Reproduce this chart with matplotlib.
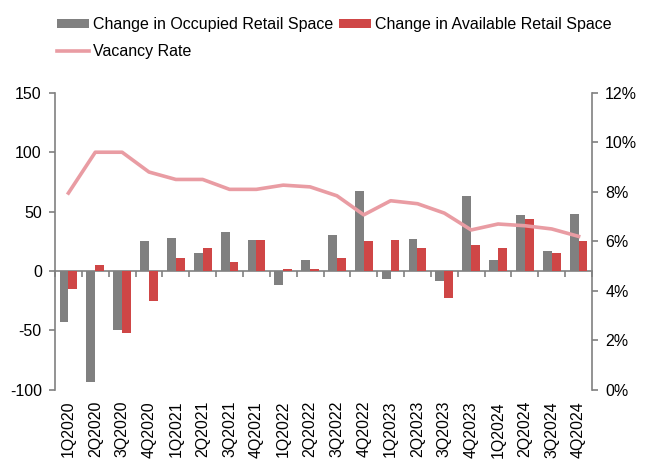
import numpy as np
import matplotlib
matplotlib.use("Agg")
import matplotlib.pyplot as plt
from matplotlib.ticker import PercentFormatter

plt.rcParams['font.family'] = ['Liberation Sans', 'DejaVu Sans']
plt.rcParams['font.size'] = 11.5
plt.rcParams['axes.unicode_minus'] = False

quarters = ["1Q2020", "2Q2020", "3Q2020", "4Q2020",
            "1Q2021", "2Q2021", "3Q2021", "4Q2021",
            "1Q2022", "2Q2022", "3Q2022", "4Q2022",
            "1Q2023", "2Q2023", "3Q2023", "4Q2023",
            "1Q2024", "2Q2024", "3Q2024", "4Q2024"]
occupied = [-43, -93, -50, 25, 28, 15, 33, 26, -12, 9, 30, 67,
            -7, 27, -8, 63, 9, 47, 17, 48]
available = [-15, 5, -52, -25, 11, 19, 8, 26, 2, 2, 11, 25,
             26, 19, -23, 22, 19, 44, 15, 25]
vacancy = [7.95, 9.6, 9.6, 8.8, 8.5, 8.5, 8.1, 8.1, 8.27, 8.2, 7.84, 7.07,
           7.64, 7.52, 7.14, 6.46, 6.7, 6.63, 6.5, 6.2]

gray = '#808080'
red = '#cf4646'
pink = '#e99ca3'

x = np.arange(len(quarters))
w = 0.33

fig = plt.figure(figsize=(6.5, 4.76), dpi=100)
ax = fig.add_axes([0.0846, 0.181, 0.8262, 0.624])

b1 = ax.bar(x - w / 2, occupied, w, color=gray, label="Change in Occupied Retail Space", zorder=2)
b2 = ax.bar(x + w / 2, available, w, color=red, label="Change in Available Retail Space", zorder=2)
ax.set_xlim(-0.5, len(quarters) - 0.5)
ax.set_ylim(-100, 150)
ax.set_yticks([-100, -50, 0, 50, 100, 150])

for s in ['top', 'bottom', 'right']:
    ax.spines[s].set_visible(False)
ax.spines['left'].set_color(gray)
ax.spines['left'].set_linewidth(1.2)
ax.tick_params(axis='y', colors=gray, labelcolor='black', length=4, width=1.2,
               pad=5.5, labelsize=11.5)
ax.set_xticks(x)
ax.set_xticklabels(quarters, rotation=90)
ax.tick_params(axis='x', length=0, pad=8, labelsize=11.5)

# zero line with boundary ticks
zx = ax.secondary_xaxis(0.4)
zx.set_xticks(np.arange(len(quarters) + 1) - 0.5)
zx.set_xticklabels([])
zx.spines['bottom'].set_color(gray)
zx.spines['bottom'].set_linewidth(1.2)
zx.tick_params(axis='x', colors=gray, length=4, width=1.2, direction='out')

ax2 = ax.twinx()
l1, = ax2.plot(x, vacancy, color=pink, linewidth=2.6, label="Vacancy Rate", zorder=3)
ax2.set_ylim(0, 12)
ax2.set_yticks(np.arange(0, 13, 2))
ax2.yaxis.set_major_formatter(PercentFormatter(decimals=0))
for s in ['top', 'bottom', 'left']:
    ax2.spines[s].set_visible(False)
ax2.spines['right'].set_color(gray)
ax2.spines['right'].set_linewidth(1.2)
ax2.tick_params(axis='y', colors=gray, labelcolor='black', length=4, width=1.2,
                pad=5.5, labelsize=11.5)

fig.legend([b1, l1, b2], [b1.get_label(), l1.get_label(), b2.get_label()],
           loc='upper left', bbox_to_anchor=(0.066, 0.994), ncol=2, frameon=False,
           handlelength=2.0, handleheight=0.5, handletextpad=0.25,
           columnspacing=0.35, labelspacing=0.72, fontsize=11.5)

fig.savefig("out.png", dpi=100)
